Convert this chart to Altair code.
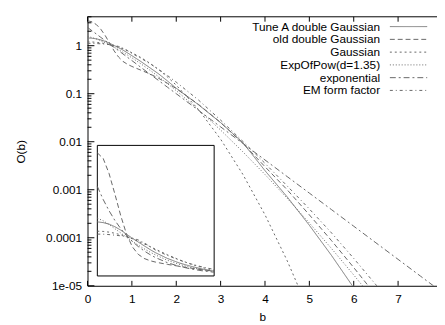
import altair as alt
import pandas as pd

# impact parameter grid
b = [0, 0.1, 0.2, 0.3, 0.4, 0.5, 0.6, 0.7, 0.8, 0.9, 1.0, 1.2, 1.4, 1.6, 1.8, 2.0,
     2.5, 3.0, 3.5, 4.0, 4.5, 5.0, 5.5, 6.0, 6.5, 7.0, 7.5, 8.0]

tune_a = [1.45, 1.43, 1.39, 1.32, 1.23, 1.12, 1.01, 0.91, 0.81, 0.71, 0.62, 0.47, 0.35, 0.26, 0.185, 0.13,
          0.059, 0.025, 0.0096, 0.0025, 7.1e-4, 1.82e-4, 4.27e-5, 9.1e-6, 1.8e-6, 3.2e-7, 5e-8, 7e-9]
old_dg = [3.30, 3.15, 2.75, 2.20, 1.62, 1.12, 0.78, 0.58, 0.47, 0.41, 0.37, 0.31, 0.26, 0.21, 0.165, 0.128,
          0.060, 0.0251, 0.00933, 0.00302, 0.0010, 3.0e-4, 8.7e-5, 2.4e-5, 6.3e-6, 1.5e-6, 3.4e-7, 7e-8]
gaussian = [1.20, 1.194, 1.175, 1.145, 1.104, 1.054, 0.995, 0.930, 0.861, 0.788, 0.714, 0.569, 0.435, 0.318, 0.224, 0.151,
            0.0471, 0.0113, 0.0021, 3.01e-4, 3.33e-5, 2.84e-6, 1.87e-7, 9.5e-9, 3.7e-10, 1.1e-11, 2.6e-13, 4.8e-15]
expofpow = [1.549, 1.480, 1.379, 1.268, 1.153, 1.039, 0.929, 0.826, 0.729, 0.641, 0.560, 0.421, 0.312, 0.227, 0.163, 0.116,
            0.0465, 0.0175, 0.00618, 0.00208, 6.65e-4, 2.03e-4, 5.96e-5, 1.68e-5, 4.55e-6, 1.19e-6, 3.02e-7, 7.42e-8]
exponential = [2.40, 2.05, 1.75, 1.49, 1.27, 1.08, 0.925, 0.789, 0.673, 0.574, 0.490, 0.356, 0.259, 0.189, 0.137, 0.100,
               0.0452, 0.0204, 0.00923, 0.00417, 0.00188, 8.51e-4, 3.85e-4, 1.74e-4, 7.85e-5, 3.55e-5, 1.60e-5, 7.24e-6]
em_ff = [1.122, 1.119, 1.109, 1.094, 1.076, 1.052, 1.015, 0.965, 0.89, 0.79, 0.692, 0.550, 0.427, 0.324, 0.240, 0.174,
         0.0741, 0.0282, 0.0102, 0.00355, 0.0012, 3.98e-4, 1.26e-4, 3.72e-5, 1.05e-5, 2.75e-6, 6.8e-7, 1.58e-7]

names = ["Tune A double Gaussian", "old double Gaussian", "Gaussian",
         "ExpOfPow(d=1.35)", "exponential", "EM form factor"]
series = [tune_a, old_dg, gaussian, expofpow, exponential, em_ff]
dashes = [[1, 0], [5, 3], [2, 3], [1, 2], [6, 3, 2, 3], [3, 3, 1, 3]]
colors = ["#777777", "#666666", "#666666", "#666666", "#666666", "#666666"]

xticks = [0, 1, 2, 3, 4, 5, 6, 7]
yticks = [1e-5, 1e-4, 1e-3, 1e-2, 0.1, 1]
ylabels = ["1e-05", "0.0001", "0.001", "0.01", "0.1", "1"]
yminor = [m * d for d in yticks for m in range(2, 10) if m * d <= 4]

FONT = "Liberation Sans"
W, H = 356, 274

rows = []
for n, vals in zip(names, series):
    for bb, v in zip(b, vals):
        rows.append({"b": bb, "O": v, "name": n})
df = pd.DataFrame(rows)

dash_scale = alt.Scale(domain=names, range=dashes)
col_scale = alt.Scale(domain=names, range=colors)
sd = alt.StrokeDash("name:N", scale=dash_scale, legend=None)
cl = alt.Color("name:N", scale=col_scale, legend=None)

xscale = alt.Scale(domain=[0, 7.877], nice=False, zero=False)
yscale = alt.Scale(type="log", domain=[1e-5, 4], nice=False)

label_expr = "".join(
    f"datum.value < {v * 1.5} ? '{lab}' : " for v, lab in zip(yticks[:-1], ylabels[:-1])
) + f"'{ylabels[-1]}'"

xaxis = alt.Axis(values=xticks, ticks=False, grid=False, labelPadding=8,
                 labelFlush=False, title="b", titlePadding=7, format="d",
                 labelFont=FONT, titleFont=FONT, labelFontSize=12, titleFontSize=12,
                 titleFontWeight="normal", labelColor="black", titleColor="black",
                 domainColor="black")
yaxis = alt.Axis(values=yticks, ticks=False, grid=False, labelPadding=6,
                 labelFlush=False, labelOverlap=False, labelExpr=label_expr,
                 title="O(b)", titlePadding=18,
                 labelFont=FONT, titleFont=FONT, labelFontSize=12, titleFontSize=12,
                 titleFontWeight="normal", labelColor="black", titleColor="black",
                 domainColor="black")

X = alt.X("b:Q", scale=xscale, axis=xaxis)
Y = alt.Y("O:Q", scale=yscale, axis=yaxis)

lines = alt.Chart(df).mark_line(clip=True, strokeWidth=1).encode(
    x=X, y=Y, strokeDash=sd, color=cl)

xt_df = pd.DataFrame({"b": xticks})
one = pd.DataFrame({"a": [0]})

x_ticks_bottom = alt.Chart(xt_df).mark_rule(color="black").encode(
    x=X, y=alt.value(H), y2=alt.value(H - 5))
x_ticks_top = alt.Chart(xt_df).mark_rule(color="black").encode(
    x=X, y=alt.value(0), y2=alt.value(5))
top_frame = alt.Chart(one).mark_rule(color="black").encode(
    x=alt.value(0), x2=alt.value(W), y=alt.value(0))
y_major = alt.Chart(pd.DataFrame({"O": yticks})).mark_rule(color="black").encode(
    y=Y, x=alt.value(0), x2=alt.value(7))
y_minor = alt.Chart(pd.DataFrame({"O": yminor})).mark_rule(color="black").encode(
    y=Y, x=alt.value(0), x2=alt.value(4))

main_group = alt.layer(lines, x_ticks_bottom, x_ticks_top, top_frame, y_major, y_minor)

# inset: linear view of the core region
inset_df = df[df["b"] <= 2]
inset_frame = alt.Chart(one).mark_rect(fill="white", stroke="black", strokeWidth=1).encode(
    x=alt.value(10), x2=alt.value(129), y=alt.value(131), y2=alt.value(264))
inset_lines = alt.Chart(inset_df).mark_line(strokeWidth=1).encode(
    x=alt.X("b:Q", scale=alt.Scale(domain=[0, 2], range=[10, 129], nice=False, zero=False), axis=None),
    y=alt.Y("O:Q", scale=alt.Scale(domain=[0, 3.5], range=[264, 131], nice=False), axis=None),
    strokeDash=sd,
    color=cl,
)
inset_group = alt.layer(inset_frame, inset_lines)

# legend (labels right-aligned, samples on the right)
leg_df = pd.DataFrame({"name": names})
yleg = alt.Y("name:N", scale=alt.Scale(type="point", domain=names, range=[10, 75], padding=0), axis=None)
leg_text = alt.Chart(leg_df).mark_text(align="right", baseline="middle", fontSize=12, font=FONT,
                                       color="black").encode(
    x=alt.value(298), y=yleg, text="name:N")
leg_lines = alt.Chart(leg_df).mark_rule(strokeWidth=1).encode(
    x=alt.value(308), x2=alt.value(346), y=yleg, strokeDash=sd, color=cl)
legend_group = alt.layer(leg_text, leg_lines)

chart = alt.layer(main_group, inset_group, legend_group).resolve_scale(
    x="independent", y="independent"
).properties(
    width=W, height=H,
    autosize=alt.AutoSizeParams(type="none"),
    padding={"left": 81, "top": 6, "right": 0, "bottom": 37},
    background="white",
).configure_view(stroke=None)

chart.save("out.html", embed_options={"renderer": "svg", "actions": False})
